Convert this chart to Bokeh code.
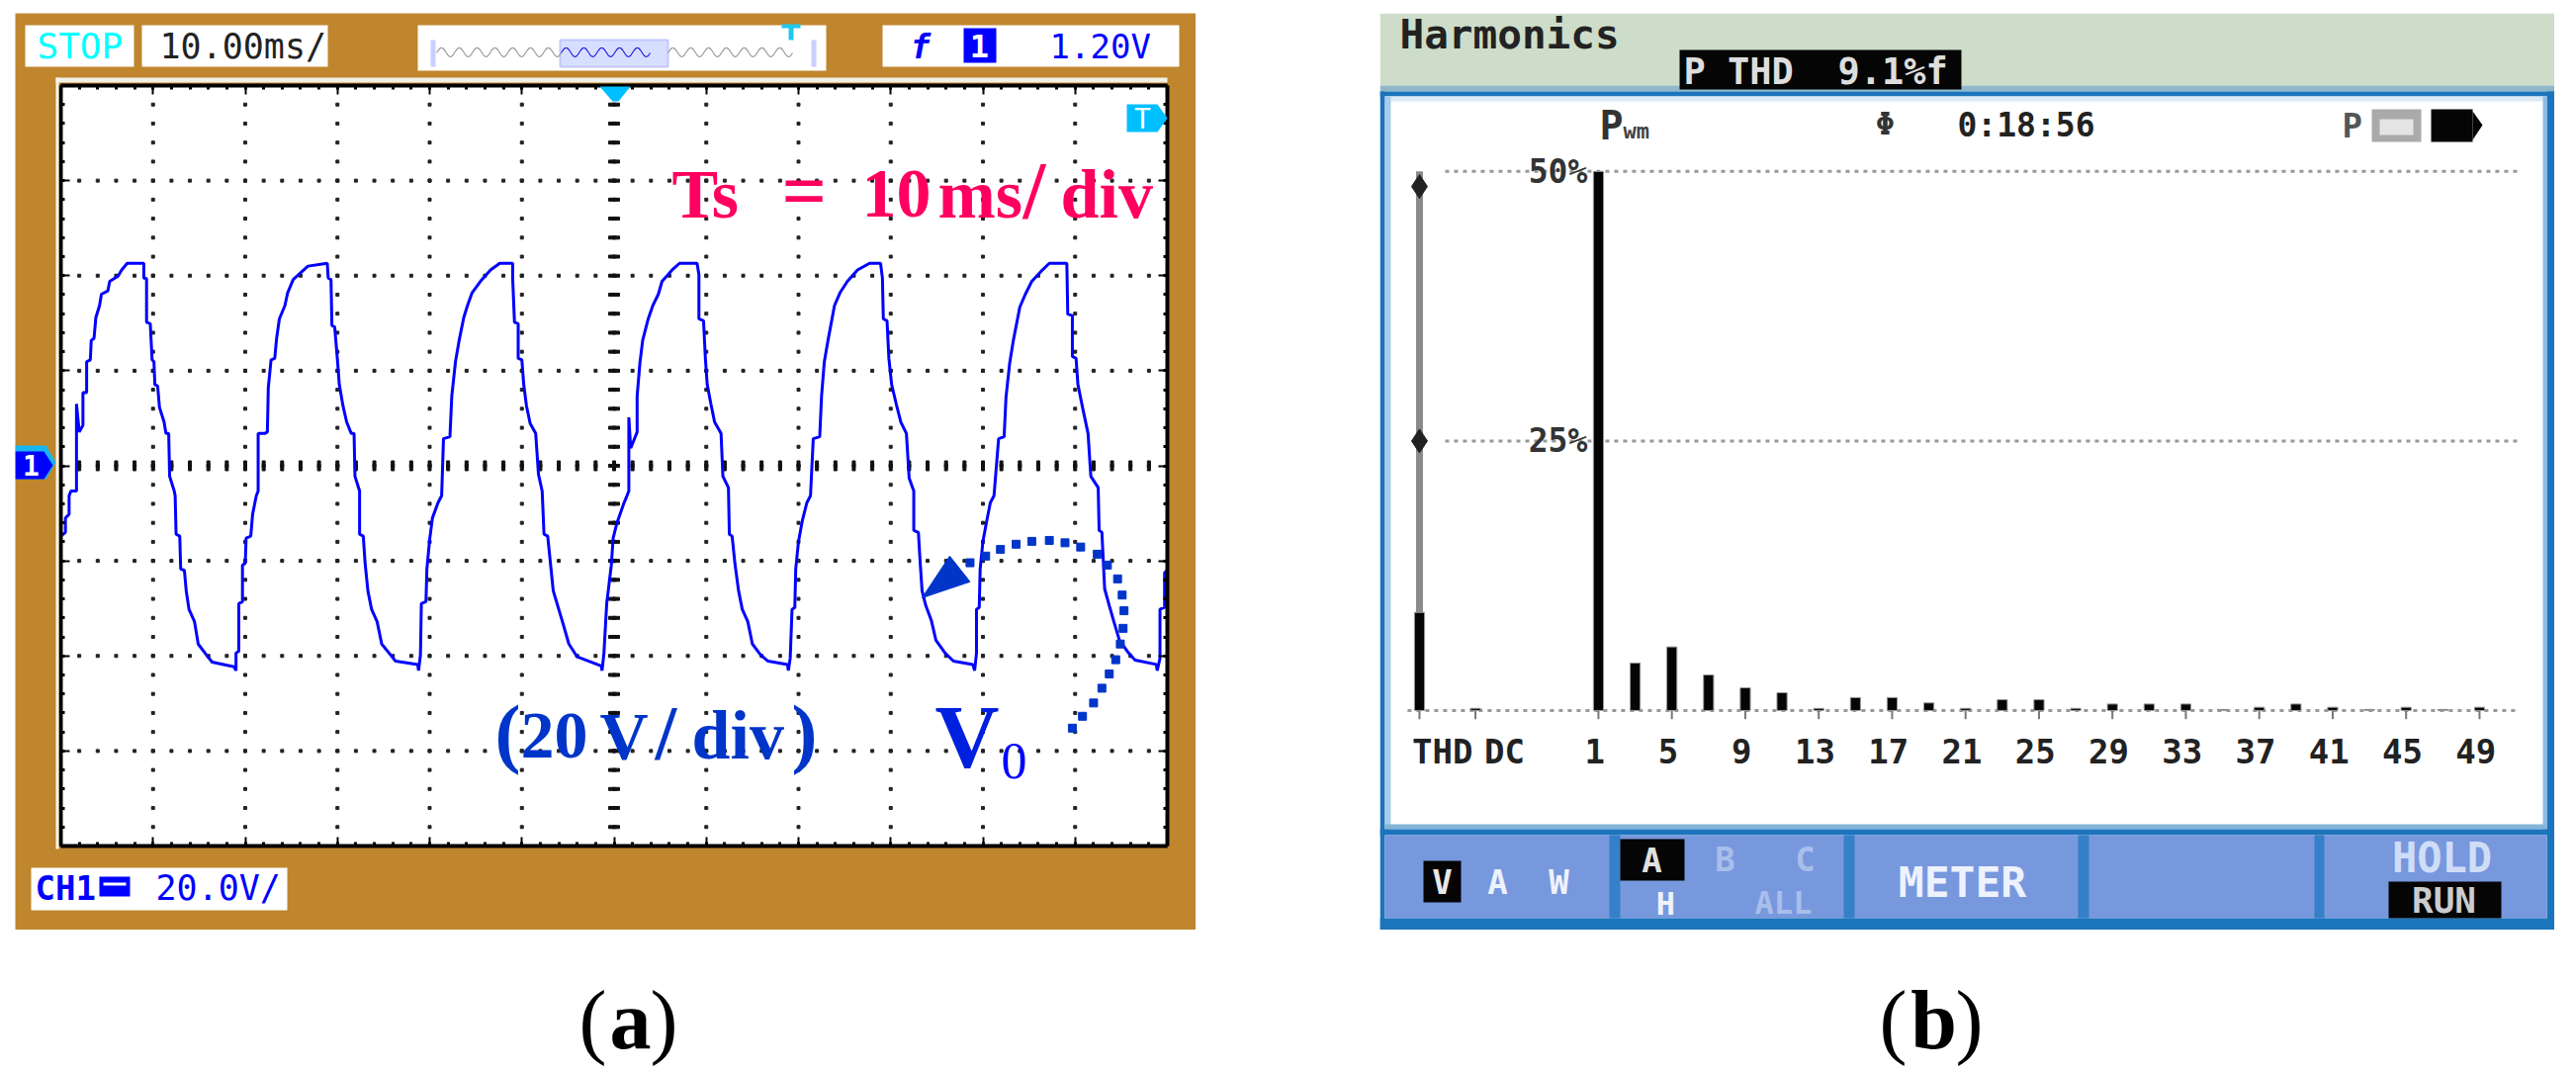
from bokeh.plotting import figure
from bokeh.models import (Range1d, LinearAxis, FixedTicker, BoxAnnotation, PolyAnnotation, Label, CustomLabelingPolicy)
from bokeh.layouts import row, column
from bokeh.embed import file_html
from bokeh.resources import INLINE
from bokeh.core.properties import value

# ---------- (a) oscilloscope trace: time in ms, voltage in V ----------
c1_t = [0,0,0.5,0.5,0.9,0.9,1.1,1.7,1.7,2.0,2.4,2.4,2.8,2.8,3.2,3.3,3.6,3.8,4.2,4.4,5.1,5.3,6.2,6.6,7.2,9.0,9.0,9.3,9.3,9.7,9.9,10.1,10.2,10.5,10.7,11.2,11.4,11.7,11.8,12.3,12.4,12.5,12.9,13.0,13.4,13.6,13.9,14.5,14.9,15.8,16.4,18.8,19.0,19.0,19.3,19.3,19.7,19.7,20.0,20.1,20.6,20.8,21.2]
c1_v = [-20.3,-14.8,-14,-11,-10.2,-6.3,-5.3,-5.3,13,7.1,8.5,15.4,15.4,21.9,22.3,26.4,26.8,31.2,33.7,36.1,36.8,38.8,39.9,41.2,42.6,42.6,39.5,39.4,30.2,29.9,22.3,21.9,17.1,16.8,12.3,9.2,6.8,6.8,-2.2,-5.3,-6.3,-14.4,-14.8,-21.7,-22,-26.3,-30.2,-32.8,-37.5,-39.8,-41.3,-42.3,-43.1,-39.4,-39,-29,-28.6,-20.9,-20.5,-15.2,-14.8,-10.2,-6.3]
c2_t = [21.4,21.4,22.1,22.4,22.5,22.8,23.2,23.4,23.7,24.3,24.6,25.2,26.0,26.8,28.9,29.0,29.3,29.4,29.7,30.0,30.2,30.6,31.0,31.5,31.8,31.9,32.4,32.4,32.8,33.0,33.3,33.7,34.3,34.8,35.6,36.3,38.7,38.8,39.0,39.1,39.6,39.7,40.0,40.3,40.9,41.3]
c2_v = [-5.3,6.8,6.8,7.1,16.4,22.3,22.6,26.8,30.9,33.7,36.4,39.2,40.6,42,42.6,39.5,39.2,29.5,29.2,22.3,17.1,12.6,9.2,6.8,6.8,-2.2,-5.3,-14.4,-14.8,-20.5,-26.3,-30.2,-32.8,-37.5,-39.4,-41.1,-41.8,-43.1,-39.8,-29,-28.6,-21.7,-15.5,-11,-7.8,-6.3]
c3_t = [41.5,42.2,42.4,42.8,43.2,43.7,44.1,44.6,45.5,46.6,47.6,49,49,49.2,49.6,49.6,50,50.2,50.5,50.9,51.5,51.8,52.2,52.4,52.8,53.1,53.4,54,54.4,55.1,56,58.6,58.7,58.9,59.2,59.7,59.9,60.3,61,61.4]
c3_v = [5.7,6.1,14.7,21.9,26.4,31.2,33.7,36.4,38.8,41.2,42.6,42.6,39.5,30.2,29.9,22.6,22.3,17.1,12.6,8.9,6.8,-1.8,-5.3,-14.4,-14.8,-20.5,-26.3,-30.2,-32.8,-37.5,-40.2,-42.1,-43.1,-39.4,-29,-20.9,-15.2,-12.1,-8.2,-6.3]
c4_t = [61.6,61.6,61.8,62.5,62.5,62.8,63.1,63.7,64.2,64.8,65.2,66.3,67.1,69,69.2,69.2,69.7,69.9,70.1,70.5,70.9,71.6,71.8,72.4,72.5,72.8,73.1,73.5,73.9,74.5,75,75.9,76.7,78.8,78.9,79.1,79.3,79.6,79.7,80,80.4,80.9,81.3]
c4_v = [-5.3,10.2,3.7,7.1,14.7,21.6,26.4,30.9,33.7,36.1,38.8,41.2,42.6,42.6,40.2,30.9,30.5,22.6,17.1,13,9.2,6.8,-2.2,-4.6,-14.4,-14.8,-20.5,-26.3,-30.2,-32.8,-37.5,-39.8,-41.1,-41.8,-43.1,-40.5,-30.2,-29.8,-21.7,-15.9,-11.7,-7.8,-6.3]
c5_t = [81.6,82.3,82.5,82.8,83.2,83.9,84.5,85.3,86.4,87.7,88.9,89.1,89.2,89.6,89.8,90.1,90.6,91.1,91.7,92,92.5,92.5,93,93.2,93.4,93.8,94.4,94.9,95.9,96.8,98.9,99.1,99.3,99.3,99.6,99.7,100,100.4,100.8,101.2]
c5_v = [5.7,6.1,14.7,21.9,26.4,33.7,36.4,38.8,41.2,42.6,42.6,39.5,30.9,30.5,22.6,17.1,13,9.2,6.8,-2.6,-5.3,-13.6,-14,-20.5,-26.3,-29.4,-32.5,-36.7,-39.4,-41.1,-41.8,-43.1,-39.4,-30.2,-29.8,-21.7,-15.9,-11.7,-7.8,-6.3]
c6_t = [101.7,102.3,102.5,102.9,103.3,104,104.6,105.3,106.3,107.2,109.1,109.2,109.7,109.7,110.1,110.3,110.8,111.4,111.7,112.5,112.6,112.9,113.2,113.7,114.2,114.8,115.8,116.5,118.8,118.9,119.2,119.2,119.7,119.7,120]
c6_v = [5.7,6.1,14.4,21.6,26.4,33.4,36.1,38.8,40.9,42.6,42.6,31.9,31.6,23,22.6,17.1,12.3,6.8,-2.2,-4.6,-13.6,-14,-25.9,-29.4,-32.8,-36.7,-39.4,-40.9,-41.8,-43.1,-40.5,-30.2,-29.8,-22.5,-22]
wave_t = c1_t + c2_t + c3_t + c4_t + c5_t + c6_t
wave_v = c1_v + c2_v + c3_v + c4_v + c5_v + c6_v

arc_t = [109.7,110.8,112,112.9,113.7,114.4,114.9,115.2,115.3,115.1,114.6,113.5,112.4,110.6,108.9,107.2,105.3,103.6,101.9,100.3,98.6]
arc_v = [-55.2,-52.7,-49.9,-46.8,-43.8,-40.8,-37.5,-34.2,-30.5,-27.2,-23.8,-20.9,-18.6,-17.1,-16.2,-15.7,-15.9,-16.5,-17.6,-19,-20.4]
head_t = [96.4,98.6,93.4]
head_v = [-19,-24.4,-27.8]

t_div = [10,20,30,40,50,60,70,80,90,100,110]
v_div = [-60,-40,-20,0,20,40,60]

# ---------- (b) harmonic spectrum: percent of fundamental ----------
orders = [1,3,5,7,9,11,13,15,17,19,21,23,25,27,29,31,33,35,37,39,41,43,45,47,49]
percent = [50,4.4,5.9,3.3,2.1,1.65,0.2,1.2,1.2,0.7,0.2,1.0,1.0,0.2,0.6,0.6,0.6,0.1,0.3,0.6,0.3,0.1,0.3,0.1,0.3]
thd_x, dc_x = -8.75, -5.7
thd_val, dc_val = 9.1, 0.2
tick_orders = [1,5,9,13,17,21,25,29,33,37,41,45,49]
tick_names = ["1","5","9","13","17","21","25","29","33","37","41","45","49"]
y_marks = [25,50]
y_names = ["25%","50%"]

MONO = "DejaVu Sans Mono"
SERIF = "Liberation Serif"
BROWN = "#BF862D"
BLUE = "#0000FF"
NAVY = "#0035C9"
PINK = "#FF0060"
CYAN = "#00BFFF"
SCR = "#1C75BC"
BTN = "#7898DE"
LEVEL = "overlay"


class Deco:
    """Puts annotations on a figure, given page coordinates of the reference."""
    def __init__(self, p, ox, oy):
        self.p, self.ox, self.oy = p, ox, oy

    def box(self, l, t, r, b, color, line=None, lw=1):
        self.p.add_layout(BoxAnnotation(
            left=l - self.ox, right=r - self.ox, top=t - self.oy, bottom=b - self.oy,
            left_units="canvas", right_units="canvas", top_units="canvas", bottom_units="canvas",
            level=LEVEL,
            fill_color=color, fill_alpha=1 if color else 0, line_color=line, line_width=lw, line_alpha=1 if line else 0))

    def poly(self, xs, ys, color, line=None, lw=1):
        self.p.add_layout(PolyAnnotation(
            xs=[x - self.ox for x in xs], ys=[y - self.oy for y in ys],
            xs_units="canvas", ys_units="canvas", level=LEVEL,
            fill_color=color, fill_alpha=1 if color else 0, line_color=line, line_width=lw, line_alpha=1 if line else 0))

    def text(self, x, y, s, size, color, font=MONO, style="bold", align="left"):
        self.p.add_layout(Label(
            x=x - self.ox, y=y - self.oy, x_units="canvas", y_units="canvas", text=s, level=LEVEL,
            text_font=font, text_font_size=f"{size}px", text_font_style=style, text_color=color,
            text_align=align, text_baseline="middle"))

    def base_text(self, x, y, s, size, color, style="bold", align="left"):
        # y is the baseline of a serif text
        self.text(x, y - 0.32 * size, s, size, color, font=SERIF, style=style, align=align)


# ---------- panel (a) ----------
sx_a = (1180 - 61) / 120
sy_a = (855 - 86) / 160
a = figure(width=1194, height=927, output_backend="svg", toolbar_location=None, margin=(13, 0, 0, 15),
           x_range=Range1d(0 - (61 - 15) / sx_a, 120 + (1209 - 1180) / sx_a),
           y_range=Range1d(-80 - (940 - 855) / sy_a, 80 + (86 - 13) / sy_a),
           min_border=0, border_fill_color=BROWN, background_fill_color=BROWN, outline_line_color=None)
a.xgrid.visible = False
a.ygrid.visible = False
a.quad(left=[0], right=[120], bottom=[-80], top=[80], color="white", level="underlay")
a.add_layout(LinearAxis(), "above")
a.add_layout(LinearAxis(), "right")
t_minor = [i * 2 for i in range(61)]
v_minor = [-80 + i * 4 for i in range(41)]
no_labels = CustomLabelingPolicy(code="return []")
for ax in a.xaxis:
    ax.ticker = FixedTicker(ticks=t_div, minor_ticks=t_minor)
    ax.bounds = (0, 120)
for ax in a.yaxis:
    ax.ticker = FixedTicker(ticks=v_div, minor_ticks=v_minor)
    ax.bounds = (-80, 80)
a.above[0].fixed_location = 80
a.below[0].fixed_location = -80
a.left[0].fixed_location = 0
a.right[0].fixed_location = 120
for ax in list(a.xaxis) + list(a.yaxis):
    ax.axis_line_color = "black"
    ax.axis_line_width = 4
    ax.major_tick_line_color = "black"
    ax.major_tick_line_width = 2
    ax.major_tick_in = 9
    ax.major_tick_out = 0
    ax.minor_tick_line_color = "black"
    ax.minor_tick_line_width = 3
    ax.minor_tick_in = 4
    ax.minor_tick_out = 0
    ax.major_label_policy = no_labels

gx, gy = [], []
for t in t_div:
    for v in v_minor[1:-1]:
        gx.append(t); gy.append(v)
for v in v_div:
    for t in t_minor[1:-1]:
        gx.append(t); gy.append(v)
a.rect(gx, gy, width=3, height=3, width_units="screen", height_units="screen", color="#222222")
a.rect(t_minor[1:-1], [0] * 59, width=3, height=10, width_units="screen", height_units="screen", color="#111111")
a.rect([60] * 39, v_minor[1:-1], width=11, height=3, width_units="screen", height_units="screen", color="#111111")

a.line(wave_t, wave_v, color=BLUE, line_width=3)
a.scatter(arc_t, arc_v, size=8, marker="square", color=NAVY)
a.patch(head_t, head_v, color=NAVY)

da = Deco(a, 15, 13)
# light strip round the graticule
da.box(56, 78, 1180, 83, "#F2F0E8")
da.box(56, 78, 59, 858, "#F8F6EE")
# header boxes
da.box(25, 25, 135, 67, "white")
da.text(37, 46, "STOP", 36, "#00FFFF", style="normal")
da.box(143, 25, 331, 67, "white")
da.text(161, 46, "10.00ms/", 35, "#222222", style="normal")
da.box(422, 25, 835, 71, "white")
da.box(566, 40, 675, 67, "#D8DEFF", "#C0C8FF", 2)
da.box(435, 40, 440, 67, "#C8D0FF")
da.box(820, 40, 825, 67, "#C8D0FF")
mini = [0, -3, -5, -5, -3, 0, 3, 4, 3, 0]


def mini_wave(x0, x1, color):
    xs, ys, x = [], [], x0
    while x < x1:
        for i, d in enumerate(mini):
            xs.append(x + i * 2.0)
            ys.append(53 + d)
        x += 18
    da.poly(xs + xs[::-1], ys + ys[::-1], None, color, 1.2)


mini_wave(441, 565, "#999999")
mini_wave(567, 655, "#2020E0")
mini_wave(675, 800, "#999999")
da.poly([790, 809, 809, 802, 802, 797, 797, 790], [24, 24, 28, 28, 40, 40, 28, 28], "#20C8F0")
# trigger box
da.box(892, 25, 1192, 67, "white")
da.text(920, 46, "f", 34, BLUE, style="bold italic")
da.box(974, 28, 1007, 63, BLUE)
da.text(990, 46, "1", 32, "white", align="center")
da.text(1061, 46, "1.20V", 34, BLUE, style="normal")
# channel box
da.box(31, 877, 290, 920, "white")
da.text(35, 897, "CH1", 34, BLUE)
da.box(100, 886, 131, 906, BLUE)
da.box(104, 892, 127, 895, "white")
da.text(157, 897, "20.0V/", 35, BLUE, style="normal")
# markers
da.poly([15, 46, 56, 46, 15], [450, 450, 467, 484, 484], "#19B5F0")
da.poly([15, 44, 53, 44, 15], [456, 456, 470, 484, 484], BLUE)
da.text(31, 470, "1", 28, "white", align="center")
da.poly([1139, 1170, 1180, 1170, 1139], [105, 105, 119, 133, 133], CYAN)
da.text(1155, 120, "T", 28, "white", align="center", style="normal")
da.poly([606, 637, 625, 619], [87, 87, 102, 102], CYAN)
# annotations on the screen
for x, s, size in [(679, "Ts", 70), (790, "=", 80), (871, "10", 70), (948, "ms", 70), (1034, "/", 82), (1072, "div", 70)]:
    da.base_text(x, 218, s, size, PINK)
for x, s, size in [(500, "(", 78), (526, "20", 68), (606, "V", 68), (662, "/", 78), (699, "div", 70), (800, ")", 78)]:
    da.base_text(x, 765, s, size, NAVY)
da.base_text(945, 774, "V", 90, "#0020E0")
da.base_text(1012, 786, "0", 52, BLUE, style="normal")

# ---------- panel (b) ----------
sx_b = (2571 - 1406) / (52.45 + 10.31)
sy_b = (727 - 102) / (56.5 + 0.83)
b = figure(width=1188, height=927, output_backend="svg", toolbar_location=None, margin=(13, 0, 0, 186),
           x_range=Range1d(-10.31 - (1406 - 1395) / sx_b, 52.45 + (2583 - 2571) / sx_b),
           y_range=Range1d(-0.83 - (940 - 727) / sy_b, 56.5 + (102 - 13) / sy_b),
           min_border=0, border_fill_color="white", background_fill_color="white", outline_line_color=None,
           y_axis_location=None)
b.xgrid.visible = False
b.ygrid.visible = False
lab_pos = [-7.5, -4.12] + [o - 0.2 for o in tick_orders]
overrides = {-7.5: "THD", -4.12: "DC"}
overrides.update({o - 0.2: n for o, n in zip(tick_orders, tick_names)})
ax = b.xaxis[0]
ax.fixed_location = -0.83
ax.ticker = FixedTicker(ticks=lab_pos)
ax.major_label_overrides = overrides
ax.axis_line_color = None
ax.major_tick_line_color = None
ax.minor_tick_line_color = None
ax.major_label_standoff = 6
ax.major_label_text_font = MONO
ax.major_label_text_font_style = "bold"
ax.major_label_text_font_size = "34px"
ax.major_label_text_color = "#222222"

for yv, x0 in [(0, -9.4), (25, -7.35), (50, -7.35)]:
    b.line([x0, 51.1], [yv, yv], line_color="#999999", line_width=3, line_dash="4 5")
b.segment(tick_orders + [thd_x, dc_x], [0] * 15, tick_orders + [thd_x, dc_x], [-0.8] * 15, color="#777777", line_width=2)
b.segment([thd_x], [thd_val], [thd_x], [50], color="#8A8A8A", line_width=7)
b.scatter([thd_x, thd_x], [48.6, 25], marker="diamond", size=24, color="#222222")
b.vbar(x=[thd_x, dc_x] + orders, top=[thd_val, dc_val] + percent, bottom=0, width=0.55,
       fill_color="#050505", line_color="#9A9A9A", line_width=1)
b.text([0.4, 0.4], y_marks, text=y_names, text_font=value(MONO), text_font_style="bold",
       text_font_size="33px", text_align="right", text_baseline="middle", text_color="#333333")

db = Deco(b, 1395, 13)
# top band
db.box(1395, 13, 2583, 86, "#CDDDCA")
db.box(1395, 86, 2583, 92, "#8FB8C8")
db.box(1395, 92, 2583, 97, SCR)
db.box(1395, 97, 2583, 102, "#DCEAF6")
db.text(1415, 34, "Harmonics", 41, "#222222")
db.box(1698, 50, 1983, 90, "#050505")
db.text(1702, 72, "P THD\u00a0\u00a09.1%f", 37, "#DDDDDD")
# side rails
db.box(1395, 92, 1400, 940, SCR)
db.box(1400, 97, 1406, 838, "#A8CCE8")
db.box(2575, 92, 2583, 940, SCR)
db.box(2571, 97, 2575, 838, "#8CBCE6")
# status line
db.text(1617, 126, "P", 40, "#333333")
db.text(1641, 132, "wm", 22, "#444444")
db.text(1906, 124, "Φ", 32, "#333333", align="center")
db.text(1979, 126, "0:18:56", 33, "#222222")
db.text(2368, 126, "P", 34, "#555555")
db.box(2398, 110, 2448, 143, "#AAAAAA")
db.box(2406, 120, 2440, 136, "#E4E4E4")
db.box(2458, 110, 2500, 143, "#050505")
db.poly([2500, 2510, 2500], [112, 126, 141], "#050505")
# buttons
db.box(1400, 833, 2575, 838, "#84B4D8")
db.box(1395, 838, 2583, 844, SCR)
db.box(1400, 844, 2575, 928, BTN)
db.box(1395, 928, 2583, 940, SCR)
for x0, x1 in [(1627, 1638), (1864, 1875), (2101, 2112), (2340, 2350)]:
    db.box(x0, 844, x1, 928, "#3580C8")
db.box(1439, 870, 1477, 912, "#050505")
db.text(1458, 891, "V", 34, "#E8E8E8", align="center")
db.text(1514, 891, "A", 34, "#EDF2FC", align="center")
db.text(1576, 891, "W", 34, "#EDF2FC", align="center")
db.box(1638, 848, 1703, 890, "#050505")
db.text(1670, 869, "A", 34, "#E0E0E0", align="center")
db.text(1684, 913, "H", 32, "#EDF2FC", align="center")
db.text(1744, 868, "B", 34, "#A9BEEB", align="center")
db.text(1825, 868, "C", 34, "#A9BEEB", align="center")
db.text(1803, 912, "ALL", 32, "#A9BEEB", align="center")
db.text(1984, 891, "METER", 43, "#EDF2FC", align="center")
db.text(2469, 867, "HOLD", 42, "#D0DDF7", align="center")
db.box(2415, 891, 2529, 928, "#050505")
db.text(2471, 910, "RUN", 36, "#CCCCCC", align="center")

# ---------- captions ----------
cap = figure(width=2589, height=140, x_range=Range1d(0, 2589), y_range=Range1d(0, 140),
             output_backend="svg", toolbar_location=None, min_border=0,
             x_axis_location=None, y_axis_location=None, outline_line_color=None)
cap.xgrid.visible = False
cap.ygrid.visible = False
dc = Deco(cap, 0, 940)
for x, s, st, al in [(613, "(", "normal", "right"), (637, "a", "bold", "center"), (657, ")", "normal", "left"),
                     (1928, "(", "normal", "right"), (1955, "b", "bold", "center"), (1977, ")", "normal", "left")]:
    dc.base_text(x, 1058, s, 84, "black", style=st, align=al)

page = column(row(column(a), column(b), spacing=0), cap, spacing=0)
open("out.html", "w").write(file_html(page, INLINE))
